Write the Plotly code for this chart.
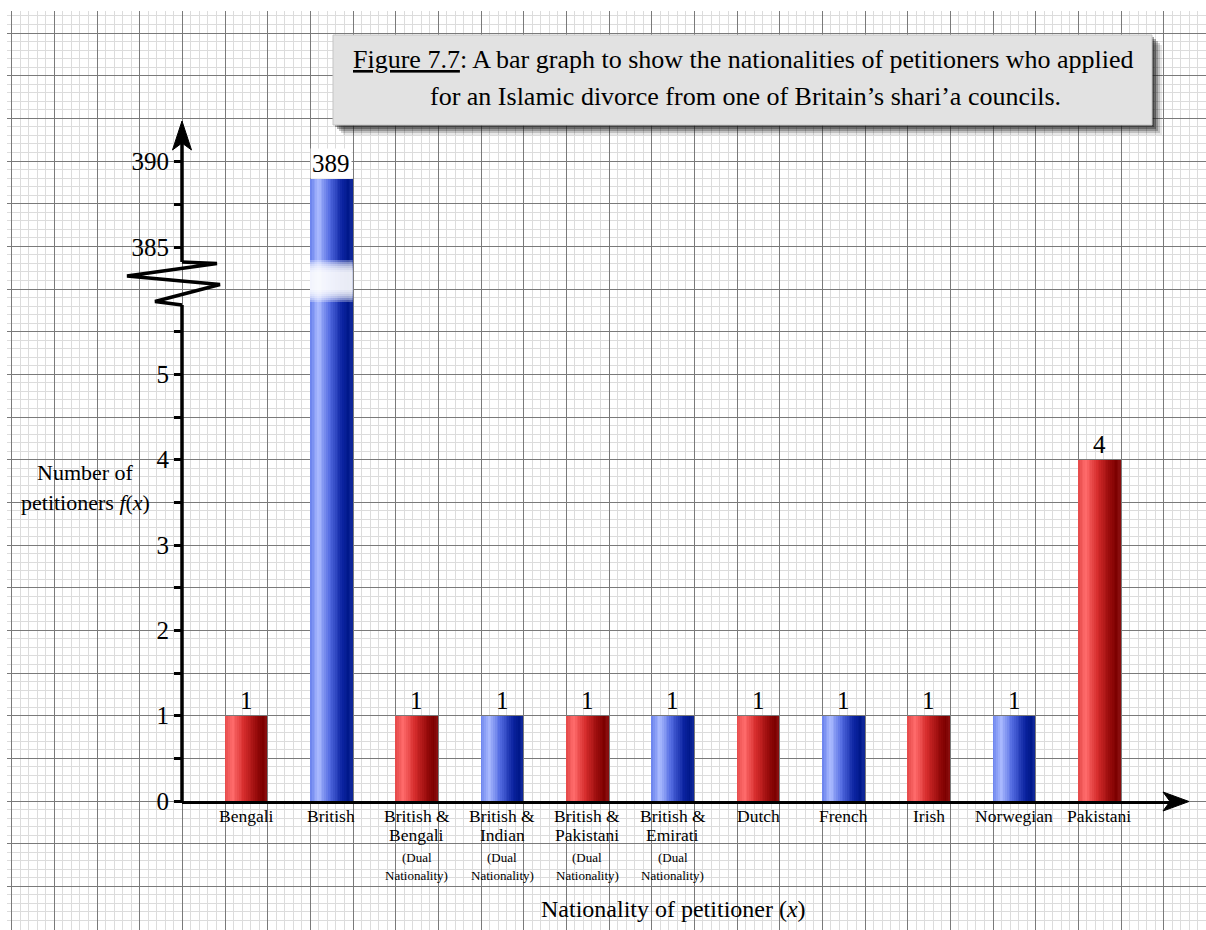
import plotly.graph_objects as go

# ---- data -------------------------------------------------------------
categories = ["Bengali", "British", "British & Bengali", "British & Indian",
              "British & Pakistani", "British & Emirati", "Dutch", "French",
              "Irish", "Norwegian", "Pakistani"]
petitioners = [1, 389, 1, 1, 1, 1, 1, 1, 1, 1, 4]
bar_shade = ["red", "blue", "red", "blue", "red", "blue",
             "red", "blue", "red", "blue", "red"]
dual_note = ["(Dual", "Nationality)"]

lower_tick_vals = [0, 0.5, 1, 1.5, 2, 2.5, 3, 3.5, 4, 4.5, 5, 5.5]
lower_tick_text = ["0", "", "1", "", "2", "", "3", "", "4", "", "5", ""]
upper_tick_vals = [385, 387.5, 390]
upper_tick_text = ["385", "", "390"]

title_lines = ["<u>Figure 7.7</u>: A bar graph to show the nationalities of petitioners who applied",
               "for an Islamic divorce from one of Britain\u2019s shari\u2019a councils."]
y_title_lines = ["Number of", "petitioners <i>f</i>(<i>x</i>)"]
x_title = "Nationality of petitioner (<i>x</i>)"

# ---- page geometry (pixels) --------------------------------------------
W, H = 1206, 930
CELL = 42.6667            # graph-paper major square
AXIS_X = 182              # vertical axis position
AXIS_END = 1175           # horizontal axis end (arrow starts)
CAT0 = 246                # centre of the first bar
CAT_STEP = 2 * CELL       # distance between bar centres
ZERO_Y = 801              # baseline
UNIT_LOW = 2 * CELL       # pixels per petitioner below the break
REF_UP_Y, REF_UP_V = 247, 385
UNIT_UP = 2 * CELL / 5    # pixels per petitioner above the break
BREAK_Y = 283
TOP_Y = 135
FONT = "Liberation Serif"


def fx(px):
    return px / W


def fy(py):
    return 1 - py / H


low_top = (ZERO_Y - BREAK_Y) / UNIT_LOW
up_bottom = REF_UP_V - (BREAK_Y - REF_UP_Y) / UNIT_UP
up_top = REF_UP_V + (REF_UP_Y - TOP_Y) / UNIT_UP
x_lo = (AXIS_X - CAT0) / CAT_STEP
x_hi = (AXIS_END - CAT0) / CAT_STEP
BAR_W = CELL / CAT_STEP

# ---- bar shading (horizontal cylinder-like gradient) --------------------
GRADIENTS = {
    "red": [(0.0, (228, 72, 72)), (0.18, (255, 108, 108)), (0.45, (214, 44, 44)),
            (0.75, (150, 10, 10)), (0.9, (124, 0, 0)), (1.0, (140, 16, 16))],
    "blue": [(0.0, (104, 128, 236)), (0.2, (172, 188, 255)), (0.45, (84, 108, 226)),
             (0.75, (12, 36, 162)), (0.9, (0, 24, 138)), (1.0, (18, 42, 156))],
}


def shade(name, t):
    stops = GRADIENTS[name]
    for (t0, c0), (t1, c1) in zip(stops[:-1], stops[1:]):
        if t0 <= t <= t1:
            a = (t - t0) / (t1 - t0)
            r, g, b = (round(c0[i] + a * (c1[i] - c0[i])) for i in range(3))
            return f"rgb({r},{g},{b})"
    r, g, b = stops[-1][1]
    return f"rgb({r},{g},{b})"


N_SLICES = 24
positions = list(range(len(categories)))

fig = go.Figure()

# invisible trace to hold the graph-paper subplot
fig.add_trace(go.Scatter(x=[0], y=[0], mode="markers", marker=dict(opacity=0),
                         xaxis="x", yaxis="y", hoverinfo="skip"))

for yax in ("y2", "y3"):
    for k in range(N_SLICES):
        t = (k + 0.5) / N_SLICES
        start = -BAR_W / 2 + k * BAR_W / N_SLICES
        fig.add_trace(go.Bar(
            x=positions, y=petitioners,
            offset=start, width=BAR_W / 2 - start,
            marker=dict(color=[shade(s, t) for s in bar_shade], line=dict(width=0)),
            xaxis="x2", yaxis=yax, hoverinfo="skip",
        ))

annotations = []
shapes = []

# value labels
for i, v in enumerate(petitioners):
    above = v > low_top
    annotations.append(dict(
        x=i, y=v, xref="x2", yref="y3" if above else "y2",
        text=str(v), showarrow=False, yanchor="bottom", xanchor="center",
        font=dict(family=FONT, size=25, color="black"),
        bgcolor="white" if above else None, borderpad=1,
    ))

# category labels
for i, cat in enumerate(categories):
    parts = cat.split(" & ")
    if len(parts) == 2:
        lines = [(parts[0] + " &", 815.5, 17.5), (parts[1], 835, 17.5),
                 (dual_note[0], 857, 13), (dual_note[1], 875, 13)]
    else:
        lines = [(cat, 815.5, 17.5)]
    for text, py, size in lines:
        annotations.append(dict(
            x=i, y=fy(py), xref="x2", yref="paper", text=text, showarrow=False,
            xanchor="center", yanchor="middle",
            font=dict(family=FONT, size=size, color="black"),
        ))

# axis titles
for text, py in zip(y_title_lines, (473, 502)):
    annotations.append(dict(x=fx(85), y=fy(py), xref="paper", yref="paper", text=text,
                            showarrow=False, xanchor="center", yanchor="middle",
                            font=dict(family=FONT, size=22, color="black")))
annotations.append(dict(x=fx(673), y=fy(909), xref="paper", yref="paper", text=x_title,
                        showarrow=False, xanchor="center", yanchor="middle",
                        font=dict(family=FONT, size=24, color="black")))

# title panel with drop shadow
BOX = (333, 35, 1152, 125)
for off, op in ((10, 0.10), (8, 0.18), (6, 0.26), (4, 0.34), (2, 0.40)):
    shapes.append(dict(type="rect", xref="paper", yref="paper",
                       x0=fx(BOX[0] + off), x1=fx(BOX[2] + off),
                       y0=fy(BOX[1] + off), y1=fy(BOX[3] + off),
                       fillcolor=f"rgba(20,20,20,{op})", line=dict(width=0), layer="above"))
shapes.append(dict(type="rect", xref="paper", yref="paper",
                   x0=fx(BOX[0]), x1=fx(BOX[2]), y0=fy(BOX[1]), y1=fy(BOX[3]),
                   fillcolor="#e2e2e2", line=dict(color="#c4c4c4", width=1), layer="above"))
for text, px, py in zip(title_lines, (743, 745), (59, 97)):
    annotations.append(dict(x=fx(px), y=fy(py), xref="paper", yref="paper", text=text,
                            showarrow=False, xanchor="center", yanchor="middle",
                            font=dict(family=FONT, size=26, color="black")))


def path(points, close=False):
    s = "M " + " L ".join(f"{fx(a):.5f},{fy(b):.5f}" for a, b in points)
    return s + (" Z" if close else "")


# vertical axis: lower and upper segments, break zigzag, arrowhead
shapes.append(dict(type="line", xref="paper", yref="paper",
                   x0=fx(AXIS_X), x1=fx(AXIS_X), y0=fy(ZERO_Y + 1.5), y1=fy(305),
                   line=dict(color="black", width=3.5)))
shapes.append(dict(type="line", xref="paper", yref="paper",
                   x0=fx(AXIS_X), x1=fx(AXIS_X), y0=fy(262), y1=fy(140),
                   line=dict(color="black", width=3.5)))
shapes.append(dict(type="path", xref="paper", yref="paper",
                   path=path([(182, 262), (217, 263.5), (127, 276), (220, 284.5),
                              (155, 301.5), (182, 305)]),
                   line=dict(color="black", width=3.5)))
shapes.append(dict(type="path", xref="paper", yref="paper",
                   path=path([(182, 121), (172.5, 150), (182, 143), (191.5, 150)], close=True),
                   fillcolor="black", line=dict(color="black", width=1)))
# horizontal axis arrowhead
shapes.append(dict(type="path", xref="paper", yref="paper",
                   path=path([(1189, 801.5), (1163, 792), (1170, 801.5), (1163, 811)], close=True),
                   fillcolor="black", line=dict(color="black", width=1)))
shapes.append(dict(type="line", xref="paper", yref="paper",
                   x0=fx(AXIS_END - 2), x1=fx(1172), y0=fy(801.5), y1=fy(801.5),
                   line=dict(color="black", width=3)))

# soft white band where a tall bar crosses the axis break
BAND_MID = 281
for i, v in enumerate(petitioners):
    if v > low_top:
        for half in (21, 19, 17, 15, 13, 11, 9):
            shapes.append(dict(type="rect", xref="x2", yref="paper",
                               x0=i - BAR_W / 2, x1=i + BAR_W / 2,
                               y0=fy(BAND_MID + half), y1=fy(BAND_MID - half),
                               fillcolor="rgba(255,255,255,0.3)", line=dict(width=0),
                               layer="above"))

tick_font = dict(family=FONT, size=25, color="black")
fig.update_layout(
    template="none",
    width=W, height=H, margin=dict(l=0, r=0, t=0, b=0, pad=0), autosize=False,
    paper_bgcolor="white", plot_bgcolor="rgba(0,0,0,0)",
    showlegend=False, barmode="overlay", bargap=0,
    xaxis=dict(domain=[fx(7), 1], range=[7, W], anchor="y", automargin=False,
               tick0=11.7, dtick=CELL, showgrid=True, gridcolor="#7a7a7a", gridwidth=1,
               minor=dict(tick0=11.7, dtick=CELL / 5, showgrid=True,
                          gridcolor="#dcdcdc", gridwidth=1),
               showticklabels=False, ticks="", zeroline=False, showline=False),
    yaxis=dict(domain=[0, fy(11)], range=[H, 11], anchor="x", automargin=False,
               tick0=ZERO_Y, dtick=CELL, showgrid=True, gridcolor="#7a7a7a", gridwidth=1,
               minor=dict(tick0=ZERO_Y, dtick=CELL / 5, showgrid=True,
                          gridcolor="#dcdcdc", gridwidth=1),
               showticklabels=False, ticks="", zeroline=False, showline=False),
    xaxis2=dict(domain=[fx(AXIS_X), fx(AXIS_END)], range=[x_lo, x_hi], anchor="y2",
                automargin=False,
                showline=True, linewidth=3, linecolor="black", showgrid=False,
                zeroline=False, showticklabels=False, ticks=""),
    yaxis2=dict(domain=[fy(ZERO_Y), fy(BREAK_Y)], range=[0, low_top],
                anchor="free", position=fx(AXIS_X), side="left", automargin=False,
                tickmode="array", tickvals=lower_tick_vals, ticktext=lower_tick_text,
                ticks="outside", ticklen=8, tickwidth=2.5, tickcolor="black",
                tickfont=tick_font, showgrid=False, zeroline=False, showline=False),
    yaxis3=dict(domain=[fy(BREAK_Y), fy(TOP_Y)], range=[up_bottom, up_top],
                anchor="free", position=fx(AXIS_X), side="left", automargin=False,
                tickmode="array", tickvals=upper_tick_vals, ticktext=upper_tick_text,
                ticks="outside", ticklen=8, tickwidth=2.5, tickcolor="black",
                tickfont=tick_font, showgrid=False, zeroline=False, showline=False),
    annotations=annotations, shapes=shapes,
)

fig.write_html("out.html")
